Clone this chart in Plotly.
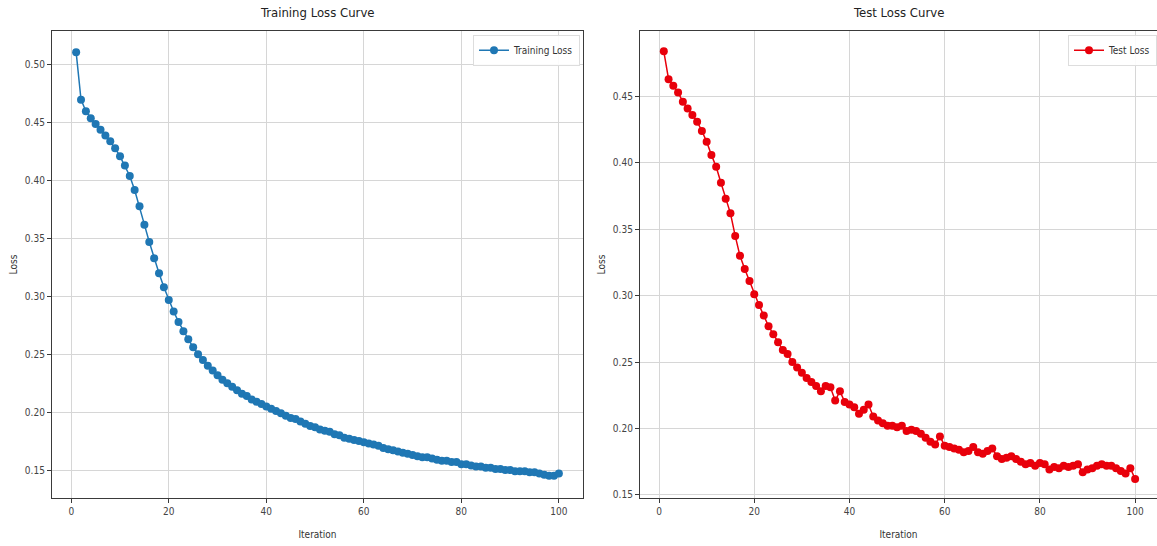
import plotly.graph_objects as go

# Loss values per iteration (1..100)
iterations = list(range(1, 101))

train_loss = [
    0.511, 0.470, 0.460, 0.454, 0.449, 0.444, 0.439, 0.434, 0.428, 0.421,
    0.413, 0.404, 0.392, 0.378, 0.362, 0.347, 0.333, 0.320, 0.308, 0.297,
    0.287, 0.278, 0.270, 0.263, 0.256, 0.250, 0.245, 0.240, 0.236, 0.232,
    0.228, 0.225, 0.222, 0.219, 0.216, 0.214, 0.211, 0.209, 0.207, 0.205,
    0.203, 0.201, 0.199, 0.197, 0.195, 0.194, 0.192, 0.190, 0.188, 0.187,
    0.185, 0.184, 0.183, 0.181, 0.180, 0.178, 0.177, 0.176, 0.175, 0.174,
    0.173, 0.172, 0.171, 0.169, 0.168, 0.167, 0.166, 0.165, 0.164, 0.163,
    0.162, 0.161, 0.161, 0.160, 0.159, 0.158, 0.158, 0.157, 0.157, 0.155,
    0.155, 0.154, 0.153, 0.153, 0.152, 0.152, 0.151, 0.151, 0.150, 0.150,
    0.149, 0.149, 0.149, 0.148, 0.148, 0.147, 0.146, 0.145, 0.145, 0.147,
]

test_loss = [
    0.484, 0.463, 0.458, 0.453, 0.446, 0.441, 0.436, 0.431, 0.424, 0.416,
    0.406, 0.397, 0.385, 0.373, 0.362, 0.345, 0.330, 0.320, 0.311, 0.301,
    0.293, 0.285, 0.277, 0.271, 0.265, 0.259, 0.256, 0.250, 0.246, 0.242,
    0.238, 0.235, 0.232, 0.228, 0.232, 0.231, 0.221, 0.228, 0.220, 0.218,
    0.216, 0.211, 0.214, 0.218, 0.209, 0.206, 0.204, 0.202, 0.202, 0.201,
    0.202, 0.198, 0.199, 0.198, 0.196, 0.193, 0.190, 0.188, 0.194, 0.187,
    0.186, 0.185, 0.184, 0.182, 0.183, 0.186, 0.182, 0.181, 0.183, 0.185,
    0.179, 0.177, 0.178, 0.179, 0.177, 0.175, 0.173, 0.174, 0.172, 0.174,
    0.173, 0.169, 0.171, 0.170, 0.172, 0.171, 0.172, 0.173, 0.167, 0.169,
    0.170, 0.172, 0.173, 0.172, 0.172, 0.170, 0.168, 0.166, 0.170, 0.162,
]

x_ticks = [0, 20, 40, 60, 80, 100]
train_y_ticks = [0.15, 0.20, 0.25, 0.30, 0.35, 0.40, 0.45, 0.50]
test_y_ticks = [0.15, 0.20, 0.25, 0.30, 0.35, 0.40, 0.45]

W, H = 1157, 546
FONT = "DejaVu Sans Condensed, Liberation Sans Narrow, DejaVu Sans, sans-serif"
AXIS_COLOR = "#3a3a3a"
GRID_COLOR = "#d6d6d6"

fig = go.Figure()

fig.add_trace(go.Scatter(
    x=iterations, y=train_loss, mode="lines+markers", name="Training Loss",
    line=dict(color="#1f77b4", width=1.5),
    marker=dict(symbol="circle", size=8, color="#1f77b4"),
    xaxis="x", yaxis="y", legend="legend", showlegend=True,
))
fig.add_trace(go.Scatter(
    x=iterations, y=test_loss, mode="lines+markers", name="Test Loss",
    line=dict(color="#e8000b", width=1.5),
    marker=dict(symbol="circle", size=8, color="#e8000b"),
    xaxis="x2", yaxis="y2", legend="legend2", showlegend=True,
))


def px_x(p):
    return p / W


def px_y(p):
    return 1 - p / H


def axis_common(tickvals, ticktext=None):
    return dict(
        tickmode="array", tickvals=tickvals,
        ticktext=ticktext,
        ticks="outside", ticklen=4, tickwidth=1, tickcolor=AXIS_COLOR,
        showgrid=True, gridcolor=GRID_COLOR, gridwidth=1,
        showline=True, linecolor=AXIS_COLOR, linewidth=1.2,
        zeroline=False,
        tickfont=dict(family=FONT, size=10, color="#444"),
    )


left_dom = [px_x(52), px_x(583)]
right_dom = [px_x(640), 1.0]
y_dom = [px_y(500), px_y(31)]

fig.update_layout(
    width=W, height=H,
    margin=dict(l=0, r=0, t=0, b=0),
    paper_bgcolor="white", plot_bgcolor="white",
    showlegend=True,
    font=dict(family=FONT, size=10, color="#333"),
    xaxis=dict(
        domain=left_dom, anchor="y", range=[-3.95, 104.95], mirror=True,
        title=dict(text="Iteration", font=dict(family=FONT, size=10, color="#333"), standoff=14),
        **axis_common(x_ticks, [str(v) for v in x_ticks]),
    ),
    yaxis=dict(
        domain=y_dom, anchor="x", range=[0.1257, 0.5294], mirror=True,
        title=dict(text="Loss", font=dict(family=FONT, size=10, color="#333"), standoff=5),
        **axis_common(train_y_ticks, [f"{v:.2f}" for v in train_y_ticks]),
    ),
    xaxis2=dict(
        domain=right_dom, anchor="y2", range=[-4.0, 104.6], mirror=True,
        title=dict(text="Iteration", font=dict(family=FONT, size=10, color="#333"), standoff=14),
        **axis_common(x_ticks, [str(v) for v in x_ticks]),
    ),
    yaxis2=dict(
        domain=y_dom, anchor="x2", range=[0.1475, 0.4994], mirror=False,
        title=dict(text="Loss", font=dict(family=FONT, size=10, color="#333"), standoff=5),
        **axis_common(test_y_ticks, [f"{v:.2f}" for v in test_y_ticks]),
    ),
    legend=dict(
        x=px_x(580), y=px_y(35), xanchor="right", yanchor="top",
        bgcolor="rgba(255,255,255,0.9)", bordercolor="#dddddd", borderwidth=1,
        font=dict(family=FONT, size=10, color="#333"), itemwidth=30,
    ),
    legend2=dict(
        x=1.0, y=px_y(35), xanchor="right", yanchor="top",
        bgcolor="rgba(255,255,255,0.9)", bordercolor="#dddddd", borderwidth=1,
        font=dict(family=FONT, size=10, color="#333"), itemwidth=30,
    ),
    annotations=[
        dict(text="Training Loss Curve", x=(left_dom[0] + left_dom[1]) / 2, y=px_y(13),
             xref="paper", yref="paper", showarrow=False, xanchor="center", yanchor="middle",
             font=dict(family=FONT, size=13, color="#222")),
        dict(text="Test Loss Curve", x=(right_dom[0] + right_dom[1]) / 2, y=px_y(13),
             xref="paper", yref="paper", showarrow=False, xanchor="center", yanchor="middle",
             font=dict(family=FONT, size=13, color="#222")),
    ],
)

fig.write_html("out.html")
